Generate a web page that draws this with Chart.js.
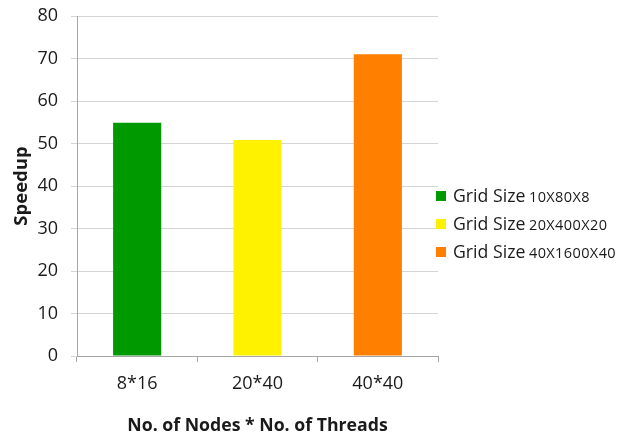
<!DOCTYPE html>
<html>
<head>
<meta charset="utf-8">
<script src="https://cdn.jsdelivr.net/npm/chart.js@4/dist/chart.umd.min.js"></script>
<style>
  html, body { margin: 0; padding: 0; background: #fff; }
  #wrap { position: relative; width: 631px; height: 438px; }
</style>
</head>
<body>
<div id="wrap"><canvas id="c" width="631" height="438"></canvas></div>
<script>
// Speedup per node/thread configuration, one series per grid size
const categories = ['8*16', '20*40', '40*40'];
const gridPrefix = 'Grid Size';
const gridSizes = ['10X80X8', '20X400X20', '40X1600X40'];
const speedup10x80x8 = [54.9, null, null];
const speedup20x400x20 = [null, 50.8, null];
const speedup40x1600x40 = [null, null, 71];
const colors = ['#009A00', '#FFF200', '#FF8000'];
const yTicks = [0, 10, 20, 30, 40, 50, 60, 70, 80];

const FONT = '"Open Sans", Lato, sans-serif';
const TEXT = '#1a1a1a';

// Legend on the right: small square, "Grid Size" and a smaller size suffix
const sideLegend = {
  id: 'sideLegend',
  afterDraw(chart) {
    const ctx = chart.ctx;
    const x0 = chart.chartArea.right - 2;
    const firstBaseline = 202;
    const rowGap = 28;
    ctx.save();
    chart.data.datasets.forEach((ds, i) => {
      const base = firstBaseline + i * rowGap;
      ctx.fillStyle = ds.backgroundColor;
      ctx.fillRect(x0, base - 11, 10, 10);
      ctx.fillStyle = TEXT;
      ctx.textBaseline = 'alphabetic';
      ctx.textAlign = 'left';
      ctx.font = '17.7px ' + FONT;
      ctx.letterSpacing = '0px';
      const main = gridPrefix + ' ';
      ctx.fillText(main, x0 + 17, base);
      const w = ctx.measureText(main).width;
      ctx.font = '14.5px ' + FONT;
      ctx.letterSpacing = '0.4px';
      ctx.fillText(gridSizes[i], x0 + 17 + w - 1, base);
    });
    ctx.restore();
  }
};

new Chart(document.getElementById('c'), {
  type: 'bar',
  data: {
    labels: categories,
    datasets: [
      { label: gridPrefix + ' ' + gridSizes[0], data: speedup10x80x8, backgroundColor: colors[0] },
      { label: gridPrefix + ' ' + gridSizes[1], data: speedup20x400x20, backgroundColor: colors[1] },
      { label: gridPrefix + ' ' + gridSizes[2], data: speedup40x1600x40, backgroundColor: colors[2] }
    ]
  },
  plugins: [sideLegend],
  options: {
    responsive: false,
    devicePixelRatio: 1,
    animation: false,
    skipNull: true,
    barPercentage: 0.4,
    categoryPercentage: 1.0,
    layout: { padding: { left: 0, top: 16, right: 193, bottom: 0 } },
    plugins: {
      legend: { display: false },
      tooltip: { enabled: false }
    },
    scales: {
      x: {
        afterFit(scale) {
          scale.height = 82;
          scale.paddingLeft = 0;
          scale.paddingRight = 0;
        },
        grid: {
          offset: true,
          drawOnChartArea: false,
          drawTicks: true,
          tickLength: 6,
          color: '#a6a6a6'
        },
        border: { color: '#a6a6a6' },
        ticks: { color: TEXT, font: { family: FONT, size: 18 }, padding: 11 },
        title: {
          display: true,
          text: 'No. of Nodes * No. of Threads',
          color: TEXT,
          font: { family: FONT, size: 17.7, weight: 'bold' },
          padding: { top: 0, bottom: 1 }
        }
      },
      y: {
        min: 0,
        max: 80,
        afterFit(scale) {
          scale.width = 77;
          scale.paddingTop = 0;
          scale.paddingBottom = 0;
        },
        afterBuildTicks(scale) { scale.ticks = yTicks.map(v => ({ value: v })); },
        grid: { color: '#d4d4d4', tickLength: 6 },
        border: { color: '#a6a6a6' },
        ticks: { color: TEXT, font: { family: FONT, size: 18 }, padding: 13 },
        title: {
          display: true,
          text: 'Speedup',
          color: TEXT,
          font: { family: FONT, size: 18.5, weight: 'bold' },
          padding: { top: 11, bottom: 0 }
        }
      }
    }
  }
});
</script>
</body>
</html>
